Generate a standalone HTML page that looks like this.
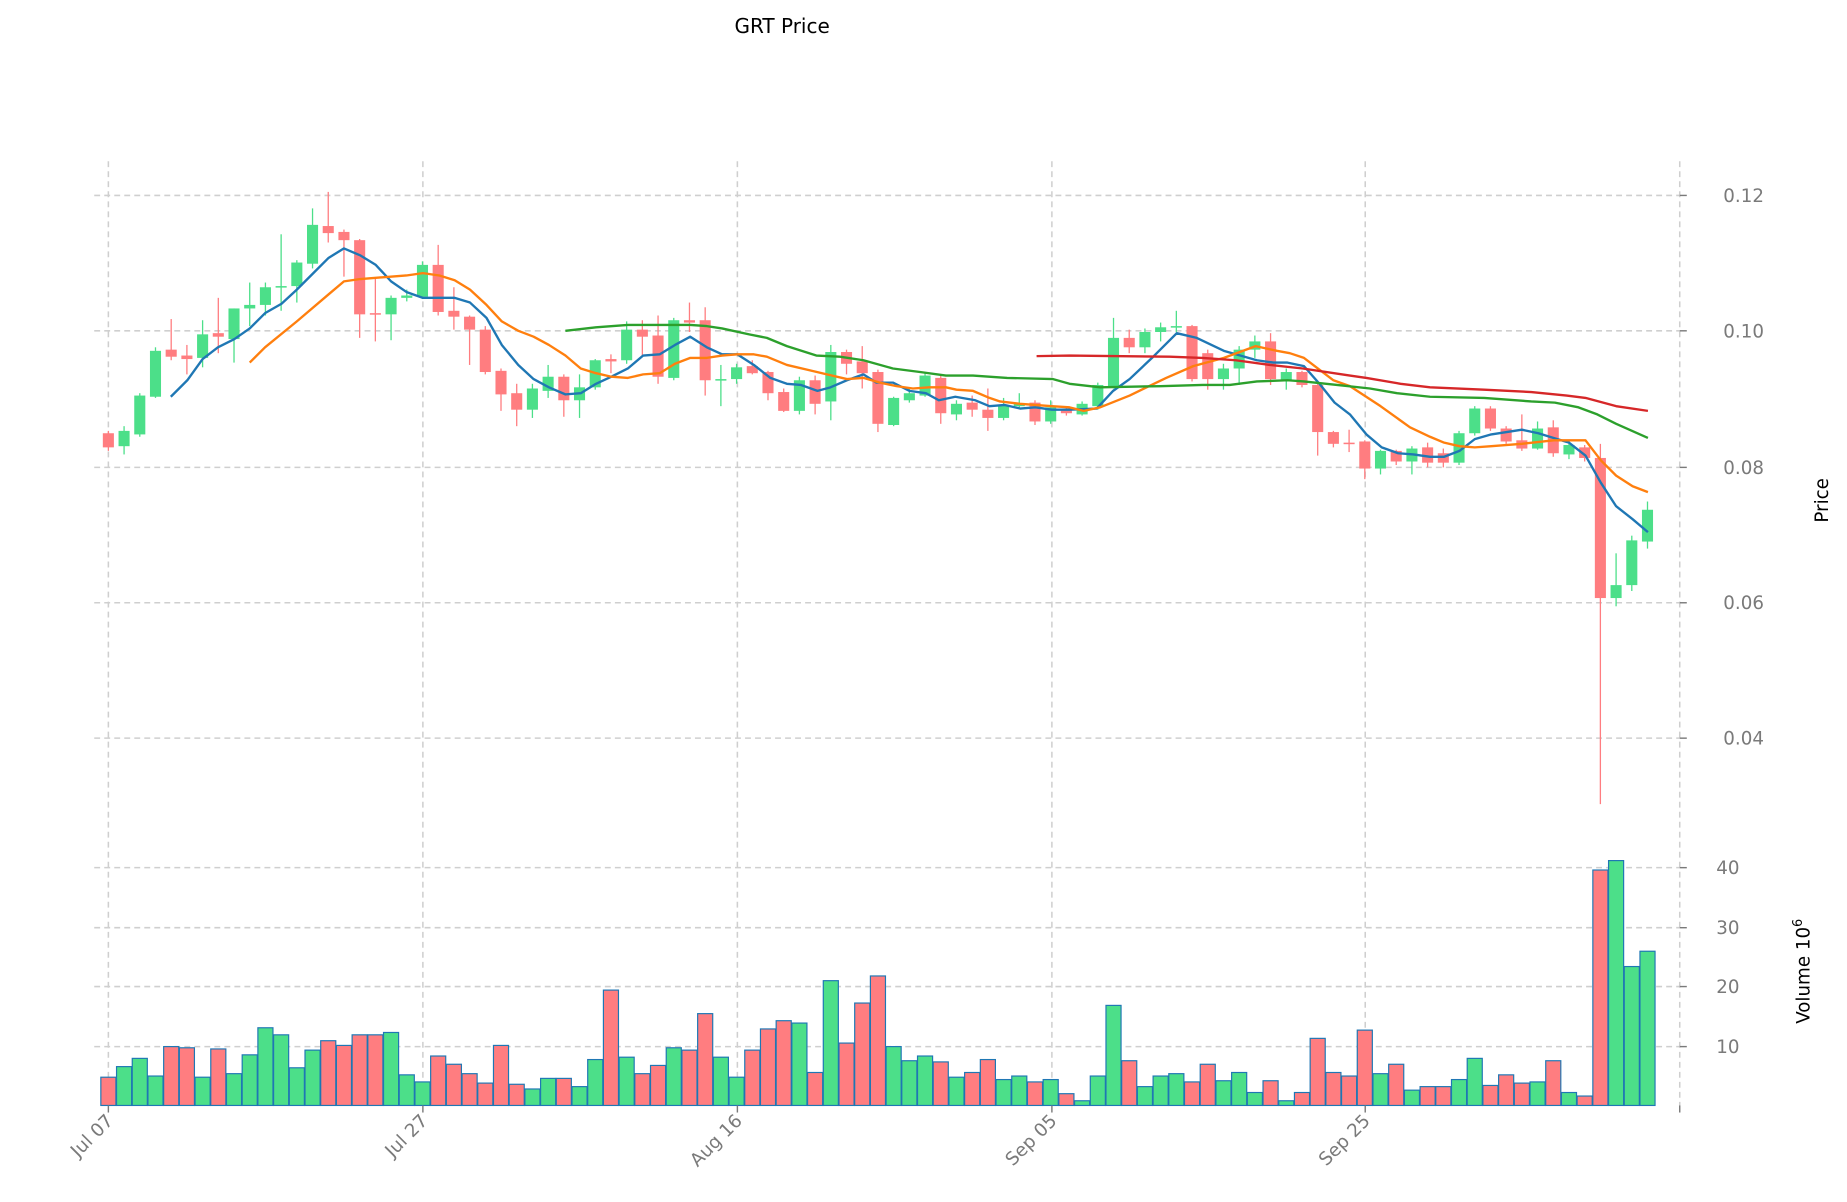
<!DOCTYPE html>
<html><head><meta charset="utf-8"><style>
html,body{margin:0;padding:0;background:#fff;}
svg{display:block;}
text{font-family:"DejaVu Sans","Liberation Sans",sans-serif;}
</style></head><body>
<svg id="s" width="1847" height="1202" viewBox="0 0 1568 1021" preserveAspectRatio="none" xmlns="http://www.w3.org/2000/svg">
<rect width="1568" height="1021" fill="#fff"/>
<g id="grid" stroke="#cfcfcf" stroke-width="1.3" stroke-dasharray="5,3.5" fill="none"></g>
<g id="vol"></g>
<g id="candles"></g>
<g id="lines" fill="none" stroke-width="2" stroke-linejoin="round"></g>
<g id="axes" fill="#7a7a7a" font-size="15.5"></g>
<text x="664" y="28" font-size="17" text-anchor="middle" fill="#000">GRT Price</text>
<text transform="translate(1552,425) rotate(-90)" font-size="15.5" text-anchor="middle" fill="#000">Price</text>
<text transform="translate(1536,825) rotate(-90)" font-size="15.5" text-anchor="middle" fill="#000">Volume  10<tspan dy="-6" font-size="11">6</tspan></text>
</svg>
<script>
const NS="http://www.w3.org/2000/svg";
function el(p,t,a){const e=document.createElementNS(NS,t);for(const k in a)e.setAttribute(k,a[k]);document.getElementById(p).appendChild(e);return e;}
const X=i=>92+13.333*i;
const G="#4cdf89",R="#ff7d80";
[166,281,397,512,627,737,788,838,889].forEach(y=>el("grid","line",{x1:80,x2:1426,y1:y,y2:y}));
[92,359,626,893,1159,1426].forEach(x=>el("grid","line",{x1:x,x2:x,y1:137,y2:939}));
const pt=[[166,"0.12"],[281,"0.10"],[397,"0.08"],[512,"0.06"],[627,"0.04"]];
pt.forEach(([y,t])=>{el("axes","line",{x1:1426,x2:1432,y1:y,y2:y,stroke:"#7a7a7a","stroke-width":1.2});const e=el("axes","text",{x:1463,y:y+5.5});e.textContent=t;});
[[737,"40"],[788,"30"],[838,"20"],[889,"10"]].forEach(([y,t])=>{el("axes","line",{x1:1426,x2:1432,y1:y,y2:y,stroke:"#7a7a7a","stroke-width":1.2});const e=el("axes","text",{x:1457,y:y+5.5});e.textContent=t;});
[["Jul 07",92],["Jul 27",359],["Aug 16",626],["Sep 05",893],["Sep 25",1159],["",1426]].forEach(([t,x])=>{el("axes","line",{x1:x,x2:x,y1:939,y2:945,stroke:"#7a7a7a","stroke-width":1.2});if(t){const e=el("axes","text",{transform:`translate(${x+5},${953}) rotate(-45)`,"text-anchor":"end"});e.textContent=t;}});
const C=[
[368,380,366,383,R],[366,379,362,386,G],[336,369,334,371,G],[298,337,295,338,G],[297,303,271,306,R],
[302,305,293,318,R],[284,304,272,312,G],[283,286,253,300,R],[262,288,262,308,G],[259,262,240,277,G],
[244,259,240,268,G],[243,244,199,264,G],[223,243,221,257,G],[191,224,177,228,G],[192,198,163,206,R],
[197,204,195,235,R],[204,267,203,287,R],[266,267,237,290,R],[253,267,251,289,G],[251,253,246,256,G],
[225,252,222,254,G],[225,265,208,268,R],[264,269,244,280,R],[269,280,268,310,R],[280,316,277,318,R],
[315,335,313,349,R],[334,348,326,362,R],[330,348,326,355,G],[320,332,310,338,G],[320,340,318,354,R],
[329,340,318,355,G],[306,329,305,331,G],[305,307,301,317,R],[280,306,273,309,G],[280,286,272,303,R],
[285,320,268,326,R],[272,321,270,323,G],[272,274,257,282,R],[272,323,261,336,R],[322,323,310,345,G],
[312,322,309,326,G],[311,317,306,318,R],[316,334,315,340,R],[333,349,330,350,R],[323,349,320,352,G],
[323,343,319,352,R],[299,341,293,357,G],[299,309,297,318,R],[307,317,294,330,R],[316,360,314,367,R],
[338,361,337,362,G],[334,340,329,342,G],[319,336,316,337,G],[321,351,318,360,R],[343,352,340,357,G],
[342,348,336,354,R],[348,355,330,366,R],[344,355,338,357,G],[343,345,334,346,G],[342,358,340,361,R],
[346,358,340,360,G],[347,351,345,353,R],[343,352,341,353,G],[327,345,325,348,G],[287,328,270,330,G],
[287,295,280,300,R],[282,295,279,300,G],[278,282,274,290,G],[277,278,264,282,G],[277,322,276,324,R],
[300,322,297,331,R],[313,322,309,331,G],[297,313,294,327,G],[290,297,285,304,G],[290,322,283,327,R],
[316,323,313,331,G],[316,327,315,329,R],[327,367,326,387,R],[367,377,366,380,R],[376,377,365,384,R],
[375,398,374,407,R],[383,398,382,403,G],[383,392,382,395,R],[381,392,379,403,G],[380,393,376,397,R],
[385,393,381,397,R],[368,393,366,395,G],[347,368,345,370,G],[347,364,345,366,R],[364,375,362,377,R],
[374,381,352,383,R],[364,381,358,382,G],[363,385,357,388,R],[378,386,375,390,G],[380,389,378,392,R],
[389,508,377,683,R],[497,508,470,515,G],[459,497,455,502,G],[433,460,426,466,G]];
const V=[915,906,899,914,889,890,915,891,912,896,873,879,907,892,884,888,879,879,877,913,919,897,904,912,920,888,921,925,916,916,923,900,841,898,912,905,890,892,861,898,915,892,874,867,869,911,833,886,852,829,889,901,897,902,915,911,900,917,914,919,917,929,935,914,854,901,923,914,912,919,904,918,911,928,918,935,928,882,911,914,875,912,904,926,923,923,917,899,922,913,920,919,901,928,931,739,731,821,808];
C.forEach((c,i)=>{const x=X(i);
 el("candles","line",{x1:x,x2:x,y1:c[2],y2:c[3],stroke:c[4],"stroke-width":1.1});
 el("candles","rect",{x:x-4.7,y:c[0],width:9.4,height:Math.max(1.3,c[1]-c[0]),fill:c[4]});
 el("vol","rect",{x:x-6.4,y:V[i],width:12.8,height:939-V[i],fill:c[4],stroke:"#1f77b4","stroke-width":1});
});
function pl(pts,col){el("lines","polyline",{points:pts.map(p=>p.join(",")).join(" "),stroke:col});}
pl([[145,337],[159,323],[172,305],[185,295],[199,288],[212,279],[225,266],[239,258],[252,246],[266,232],[279,219],[292,211],[306,217],[319,225],[332,239],[345,248],[359,253],[386,253],[399,257],[413,270],[426,293],[440,310],[453,322],[466,329],[480,335],[493,334],[506,326],[519,320],[533,313],[546,302],[560,301],[573,293],[586,286],[600,295],[613,301],[626,301],[640,310],[654,321],[668,326],[680,327],[694,332],[705,329],[719,323],[733,318],[744,325],[758,325],[772,332],[786,334],[797,340],[811,337],[828,340],[840,345],[853,344],[866,347],[879,346],[893,348],[908,348],[931,347],[945,332],[959,322],[979,303],[999,283],[1016,287],[1039,298],[1067,306],[1081,308],[1093,308],[1107,311],[1121,327],[1133,342],[1146,352],[1160,369],[1173,380],[1187,385],[1200,386],[1214,388],[1226,388],[1239,383],[1252,373],[1266,369],[1279,367],[1292,365],[1306,368],[1319,372],[1332,376],[1346,387],[1359,410],[1372,430],[1386,441],[1399,452]],"#1f77b4");
pl([[212,308],[225,295],[252,273],[279,250],[292,239],[306,237],[345,234],[359,232],[373,234],[386,238],[399,246],[413,259],[426,273],[440,281],[453,286],[466,293],[480,302],[493,313],[506,317],[519,320],[533,321],[546,318],[560,317],[573,309],[586,304],[600,304],[613,302],[626,301],[640,301],[651,303],[668,310],[685,314],[702,318],[719,322],[733,321],[747,325],[761,328],[775,330],[789,329],[803,329],[812,331],[826,332],[840,338],[849,341],[866,343],[893,345],[908,346],[920,349],[934,346],[959,336],[990,321],[1013,311],[1039,304],[1066,294],[1084,298],[1095,300],[1107,304],[1132,323],[1146,328],[1172,345],[1197,363],[1214,371],[1226,376],[1239,379],[1252,380],[1266,379],[1292,377],[1319,374],[1346,374],[1359,391],[1372,404],[1386,413],[1399,418]],"#ff7f0e");
pl([[480,281],[506,278],[533,276],[560,276],[586,276],[600,277],[613,279],[636,284],[651,287],[668,294],[693,302],[713,303],[733,306],[758,313],[781,316],[803,319],[826,319],[855,321],[894,322],[908,326],[934,329],[985,328],[1021,327],[1044,327],[1067,324],[1093,323],[1107,324],[1135,327],[1163,330],[1186,334],[1214,337],[1260,338],[1300,341],[1320,342],[1340,346],[1356,352],[1372,360],[1399,372]],"#2ca02c");
pl([[880,302.5],[908,302],[993,303],[1021,304],[1049,306],[1078,310],[1106,313],[1146,319],[1160,321],[1189,326],[1214,329],[1260,331],[1300,333],[1330,336],[1346,338],[1372,345],[1399,349]],"#d62728");
</script>
</body></html>
